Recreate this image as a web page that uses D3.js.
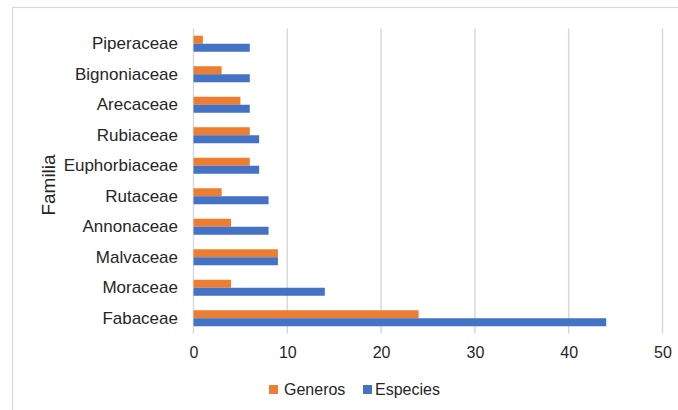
<!DOCTYPE html>
<html><head><meta charset="utf-8">
<script src="https://cdn.jsdelivr.net/npm/d3@7"></script>
<style>body{margin:0;background:#fff}svg{display:block;font-family:"Liberation Sans",Arial,sans-serif}</style>
</head><body>
<script>
const categories = ["Piperaceae","Bignoniaceae","Arecaceae","Rubiaceae","Euphorbiaceae","Rutaceae","Annonaceae","Malvaceae","Moraceae","Fabaceae"];
const generos = [1,3,5,6,6,3,4,9,4,24];
const especies = [6,6,6,7,7,8,8,9,14,44];
const seriesNames = ["Generos","Especies"];
const seriesColors = ["#ED7D31","#4472C4"];
const xTicks = [0,10,20,30,40,50];

const W=678,H=410;
const svg=d3.select("body").append("svg").attr("width",W).attr("height",H);
svg.append("rect").attr("x",12.5).attr("y",7.5).attr("width",680).attr("height",420)
  .attr("fill","#fff").attr("stroke","#d9d9d9").attr("stroke-width",1.2);

const x=d3.scaleLinear().domain([0,50]).range([193.5,662.5]);
const y=d3.scaleBand().domain(categories).range([28.5,333.5]).paddingInner(0.475).paddingOuter(0.2375);
const sub=d3.scaleBand().domain(seriesNames).range([0,y.bandwidth()]);

// gridlines
svg.append("g").selectAll("line").data(xTicks).join("line")
  .attr("x1",d=>x(d)).attr("x2",d=>x(d)).attr("y1",28.5).attr("y2",333.5)
  .attr("stroke","#d9d9d9").attr("stroke-width",1.5);

const data=[generos,especies];
data.forEach((vals,si)=>{
  svg.append("g").selectAll("rect").data(categories).join("rect")
    .attr("x",x(0)).attr("y",(c)=>y(c)+sub(seriesNames[si]))
    .attr("width",(c,i)=>x(vals[i])-x(0)).attr("height",sub.bandwidth())
    .attr("fill",seriesColors[si]);
});

const FF="'Liberation Sans',Arial,sans-serif";
// x axis
const xa=svg.append("g").attr("transform","translate(0,333.5)")
  .call(d3.axisBottom(x).tickValues(xTicks).tickSize(0).tickPadding(13).tickFormat(d3.format("d")));
xa.select(".domain").remove();
xa.selectAll("text").attr("font-size",16).attr("fill","#262626").style("font-family",FF);

// y axis
const ya=svg.append("g").attr("transform","translate(193.5,0)")
  .call(d3.axisLeft(y).tickSize(0).tickPadding(15.5));
ya.select(".domain").remove();
ya.selectAll("text").attr("font-size",17).attr("fill","#262626").style("font-family",FF);

svg.append("text").attr("transform","translate(55,185) rotate(-90)").attr("text-anchor","middle")
  .attr("font-size",19).attr("fill","#262626").text("Familia");

// legend
const leg=[{n:"Generos",x:269,tx:284},{n:"Especies",x:363,tx:375}];
leg.forEach((l,i)=>{
  svg.append("rect").attr("x",l.x).attr("y",385).attr("width",9).attr("height",9).attr("fill",seriesColors[i]);
  svg.append("text").attr("x",l.tx).attr("y",395).attr("font-size",16).attr("fill","#262626").text(l.n);
});
</script>
</body></html>
